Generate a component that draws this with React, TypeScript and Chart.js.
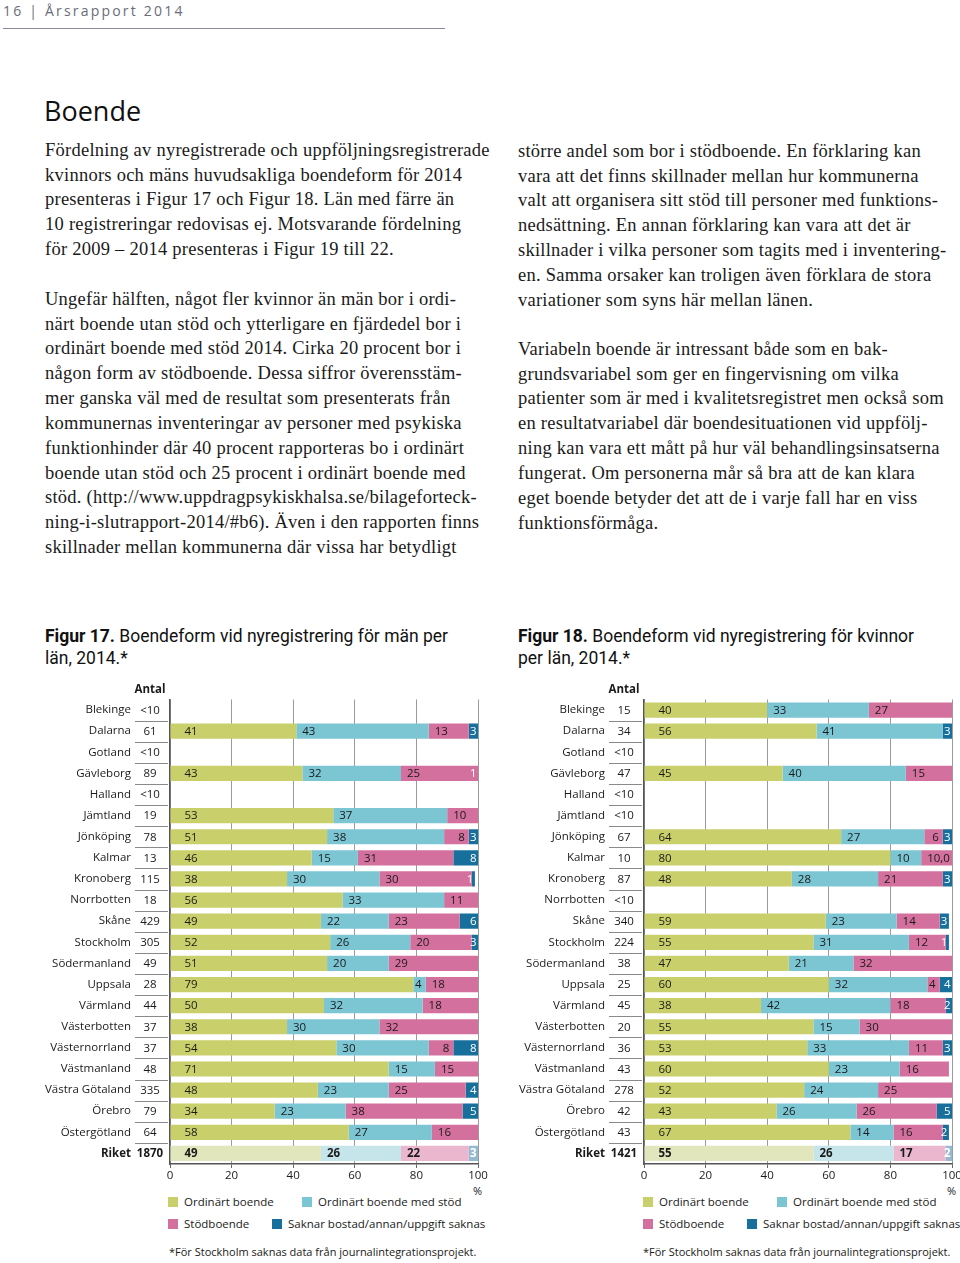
import React, { useEffect, useRef } from "react";
import { Chart, registerables } from "chart.js";
Chart.register(...registerables);

const SANS = '"Open Sans", "Noto Sans", sans-serif';
const SERIF = '"Liberation Serif", "DejaVu Serif", serif';
const NARROW = '"Liberation Sans Narrow", Roboto, sans-serif';
const FS = 11.5;

// ---- data ----
const lan = ["Blekinge", "Dalarna", "Gotland", "Gävleborg", "Halland", "Jämtland", "Jönköping", "Kalmar", "Kronoberg", "Norrbotten", "Skåne", "Stockholm", "Södermanland", "Uppsala", "Värmland", "Västerbotten", "Västernorrland", "Västmanland", "Västra Götaland", "Örebro", "Östergötland", "Riket"];
const seriesNames = ["Ordinärt boende", "Ordinärt boende med stöd", "Stödboende", "Saknar bostad/annan/uppgift saknas"];
const xTicks = [0, 20, 40, 60, 80, 100];

const manAntal = ["<10", "61", "<10", "89", "<10", "19", "78", "13", "115", "18", "429", "305", "49", "28", "44", "37", "37", "48", "335", "79", "64", "1870"];
const manOrd = [null, 41, null, 43, null, 53, 51, 46, 38, 56, 49, 52, 51, 79, 50, 38, 54, 71, 48, 34, 58, 49];
const manOrdStod = [null, 43, null, 32, null, 37, 38, 15, 30, 33, 22, 26, 20, 4, 32, 30, 30, 15, 23, 23, 27, 26];
const manStod = [null, 13, null, 25, null, 10, 8, 31, 30, 11, 23, 20, 29, 18, 18, 32, 8, 15, 25, 38, 16, 22];
const manSaknar = [null, 3, null, 1, null, 0, 3, 8, 1, 0, 6, 3, 0, 0, 0, 0, 8, 0, 4, 5, 0, 3];

const kvAntal = ["15", "34", "<10", "47", "<10", "<10", "67", "10", "87", "<10", "340", "224", "38", "25", "45", "20", "36", "43", "278", "42", "43", "1421"];
const kvOrd = [40, 56, null, 45, null, null, 64, 80, 48, null, 59, 55, 47, 60, 38, 55, 53, 60, 52, 43, 67, 55];
const kvOrdStod = [33, 41, null, 40, null, null, 27, 10, 28, null, 23, 31, 21, 32, 42, 15, 33, 23, 24, 26, 14, 26];
const kvStod = [27, 0, null, 15, null, null, 6, 10, 21, null, 14, 12, 32, 4, 18, 30, 11, 16, 25, 26, 16, 17];
const kvSaknar = [0, 3, null, 0, null, null, 3, 0, 3, null, 3, 1, 0, 4, 2, 0, 3, 0, 0, 5, 2, 2];
const kvEtikettUndantag = { 2: { 7: "10,0" } };

const colors = ["#c9cf6b", "#7cc5d3", "#d4709e", "#176f9c"];
const lightColors = ["#e2e6bd", "#c6e5eb", "#ebb7cf", "#93bad0"];

const extraPlugin = {
  id: "extra",
  afterDatasetsDraw(chart: any, _args: any, opts: any) {
    const { ctx, chartArea } = chart;
    const ys = chart.scales.y;
    const n = lan.length;
    ctx.save();
    ctx.fillStyle = "#1a1a1a";
    ctx.textAlign = "center";
    ctx.textBaseline = "middle";
    ctx.font = `bold ${FS}px ${SANS}`;
    ctx.fillText("Antal", 110, chartArea.top - 10);
    opts.antal.forEach((a: string, i: number) => {
      ctx.font = `${i === n - 1 ? "bold " : ""}${FS}px ${SANS}`;
      ctx.fillText(a, 110, ys.getPixelForValue(i) + 0.5);
    });
    ctx.strokeStyle = "#8a8a8a";
    ctx.lineWidth = 1;
    for (let i = 0; i < n - 1; i++) {
      const yy = Math.round((ys.getPixelForValue(i) + ys.getPixelForValue(i + 1)) / 2) + 0.5;
      ctx.beginPath();
      ctx.moveTo(95, yy);
      ctx.lineTo(128, yy);
      ctx.stroke();
    }
    // bar labels
    chart.data.datasets.forEach((ds: any, k: number) => {
      const meta = chart.getDatasetMeta(k);
      meta.data.forEach((bar: any, i: number) => {
        const v = ds.data[i];
        if (!v) return;
        const p = bar.getProps(["x", "base", "y"], true);
        const start = Math.min(p.x, p.base);
        const end = Math.min(Math.max(p.x, p.base), chartArea.right);
        const txt = (opts.overrides && opts.overrides[k] && opts.overrides[k][i]) || String(v);
        ctx.font = `${i === n - 1 ? "bold " : ""}${FS}px ${SANS}`;
        ctx.textBaseline = "middle";
        const w = end - start;
        if (k === 3) {
          ctx.fillStyle = "#ffffff";
          ctx.textAlign = "right";
          ctx.fillText(txt, Math.min(end, chartArea.right) - 1.5, p.y + 0.5);
          return;
        }
        ctx.fillStyle = "#1a1a1a";
        if (w < 27) {
          ctx.textAlign = "right";
          ctx.fillText(txt, end - 4, p.y + 0.5);
        } else {
          ctx.textAlign = "left";
          ctx.fillText(txt, start + (k === 0 ? 14 : 6), p.y + 0.5);
        }
      });
    });
    ctx.restore();
  },
};

function StackedChart(props: { antal: string[]; series: (number | null)[][]; overrides?: any; width: number; padRight: number }) {
  const ref = useRef<HTMLCanvasElement>(null);
  useEffect(() => {
    const bg = (k: number) => lan.map((_, i) => (i === lan.length - 1 ? lightColors[k] : colors[k]));
    const chart = new Chart(ref.current as HTMLCanvasElement, {
      type: "bar",
      data: {
        labels: lan,
        datasets: props.series.map((s, k) => ({
          label: seriesNames[k],
          data: s,
          backgroundColor: bg(k),
          borderWidth: 0,
          barPercentage: 0.72,
          categoryPercentage: 1,
        })),
      },
      options: {
        indexAxis: "y",
        animation: false,
        responsive: false,
        maintainAspectRatio: false,
        layout: { padding: { top: 21.5, right: props.padRight, left: 0, bottom: 0 } },
        plugins: {
          legend: { display: false },
          tooltip: { enabled: false },
          extra: { antal: props.antal, overrides: props.overrides },
        } as any,
        scales: {
          x: {
            stacked: true,
            min: 0,
            max: 100,
            afterBuildTicks: (s: any) => {
              s.ticks = xTicks.map((v) => ({ value: v }));
            },
            ticks: { font: { family: SANS, size: FS }, color: "#1a1a1a", padding: 1, maxRotation: 0 },
            grid: { color: "#9a9a9a", lineWidth: 1, drawTicks: true, tickLength: 4, tickColor: "#666" },
            border: { color: "#555", width: 1.5 },
            afterFit: (s: any) => {
              s.height = 19;
              s.paddingLeft = 0;
              s.paddingRight = 0;
              s.paddingTop = 0;
              s.paddingBottom = 0;
            },
          },
          y: {
            stacked: true,
            ticks: {
              font: (c: any) => ({ family: SANS, size: FS, weight: c.index === lan.length - 1 ? "bold" : "normal" }),
              color: "#1a1a1a",
              padding: 39,
              autoSkip: false,
            },
            grid: { display: false, drawTicks: false },
            border: { color: "#555", width: 1.5 },
            afterFit: (s: any) => {
              s.width = 130;
              s.paddingTop = 0;
              s.paddingBottom = 0;
              s.paddingLeft = 0;
              s.paddingRight = 0;
            },
          },
        },
      } as any,
      plugins: [extraPlugin],
    });
    return () => chart.destroy();
  }, []);
  return <canvas ref={ref} width={props.width} height={505} style={{ display: "block" }} />;
}

function Lines({ left, center, lines }: { left: number; center: number; lines: string[] }) {
  const lh = 24.85;
  return (
    <div style={{ position: "absolute", left, top: center - 12.3, fontFamily: SERIF, fontSize: 18.5, letterSpacing: "0.25px", lineHeight: `${lh}px`, color: "#1a1a1a", whiteSpace: "nowrap" }}>
      {lines.map((l, i) => (
        <div key={i}>{l}</div>
      ))}
    </div>
  );
}

function Legend({ left, x2a, x2b }: { left: number; x2a: number; x2b: number }) {
  const item = (x: number, y: number, c: string, t: string) => (
    <div style={{ position: "absolute", left: x, top: y - 8, display: "flex", alignItems: "center", fontFamily: SANS, fontSize: 11.5, color: "#1a1a1a", whiteSpace: "nowrap" }}>
      <span style={{ display: "inline-block", width: 10, height: 10, background: c, marginRight: 6 }} />
      {t}
    </div>
  );
  return (
    <>
      {item(left, 1202, colors[0], seriesNames[0])}
      {item(x2a, 1202, colors[1], seriesNames[1])}
      {item(left, 1224, colors[2], seriesNames[2])}
      {item(x2b, 1224, colors[3], seriesNames[3])}
    </>
  );
}

export default function App() {
  useEffect(() => {
    document.body.style.margin = "0";
  }, []);
  const abs = (s: any) => ({ position: "absolute", ...s } as React.CSSProperties);
  return (
    <div style={{ position: "absolute", left: 0, top: 0, width: 960, height: 1263, overflow: "hidden", background: "#fff" }}>
      <div style={abs({ left: 3, top: 1, fontFamily: SANS, fontSize: 14, letterSpacing: "2.2px", color: "#6b6b7b", whiteSpace: "nowrap" })}>16 | Årsrapport 2014</div>
      <div style={abs({ left: 3, top: 28, width: 442, height: 1, background: "#8a8a9a" })} />
      <div style={abs({ left: 44, top: 92, fontFamily: SANS, fontSize: 27, color: "#111", fontWeight: 400 })}>Boende</div>

      <Lines left={45} center={150} lines={["Fördelning av nyregistrerade och uppföljningsregistrerade", "kvinnors och mäns huvudsakliga boendeform för 2014", "presenteras i Figur 17 och Figur 18. Län med färre än", "10 registreringar redovisas ej. Motsvarande fördelning", "för 2009 – 2014 presenteras i Figur 19 till 22."]} />
      <Lines left={45} center={299} lines={["Ungefär hälften, något fler kvinnor än män bor i ordi-", "närt boende utan stöd och ytterligare en fjärdedel bor i", "ordinärt boende med stöd 2014. Cirka 20 procent bor i", "någon form av stödboende. Dessa siffror överensstäm-", "mer ganska väl med de resultat som presenterats från", "kommunernas inventeringar av personer med psykiska", "funktionhinder där 40 procent rapporteras bo i ordinärt", "boende utan stöd och 25 procent i ordinärt boende med", "stöd. (http://www.uppdragpsykiskhalsa.se/bilageforteck-", "ning-i-slutrapport-2014/#b6). Även i den rapporten finns", "skillnader mellan kommunerna där vissa har betydligt"]} />
      <Lines left={518} center={151} lines={["större andel som bor i stödboende. En förklaring kan", "vara att det finns skillnader mellan hur kommunerna", "valt att organisera sitt stöd till personer med funktions-", "nedsättning. En annan förklaring kan vara att det är", "skillnader i vilka personer som tagits med i inventering-", "en. Samma orsaker kan troligen även förklara de stora", "variationer som syns här mellan länen."]} />
      <Lines left={518} center={349} lines={["Variabeln boende är intressant både som en bak-", "grundsvariabel som ger en fingervisning om vilka", "patienter som är med i kvalitetsregistret men också som", "en resultatvariabel där boendesituationen vid uppfölj-", "ning kan vara ett mått på hur väl behandlingsinsatserna", "fungerat. Om personerna mår så bra att de kan klara", "eget boende betyder det att de i varje fall har en viss", "funktionsförmåga."]} />

      <div style={abs({ left: 45, top: 625, fontFamily: NARROW, fontSize: 17.5, lineHeight: "22px", color: "#111", whiteSpace: "nowrap" })}>
        <div><b>Figur 17.</b> Boendeform vid nyregistrering för män per</div>
        <div>län, 2014.*</div>
      </div>
      <div style={abs({ left: 518, top: 625, fontFamily: NARROW, fontSize: 17.5, lineHeight: "22px", color: "#111", whiteSpace: "nowrap" })}>
        <div><b>Figur 18.</b> Boendeform vid nyregistrering för kvinnor</div>
        <div>per län, 2014.*</div>
      </div>

      <div style={abs({ left: 40, top: 678 })}>
        <StackedChart antal={manAntal} series={[manOrd, manOrdStod, manStod, manSaknar]} width={450} padRight={12} />
      </div>
      <div style={abs({ left: 514, top: 678 })}>
        <StackedChart antal={kvAntal} series={[kvOrd, kvOrdStod, kvStod, kvSaknar]} overrides={kvEtikettUndantag} width={446} padRight={8} />
      </div>

      <div style={abs({ left: 473, top: 1183, fontFamily: SANS, fontSize: 11, color: "#1a1a1a" })}>%</div>
      <div style={abs({ left: 947, top: 1183, fontFamily: SANS, fontSize: 11, color: "#1a1a1a" })}>%</div>

      <Legend left={168} x2a={302} x2b={272} />
      <Legend left={643} x2a={777} x2b={747} />

      <div style={abs({ left: 169, top: 1244, fontFamily: SANS, fontSize: 11, color: "#1a1a1a", whiteSpace: "nowrap" })}>*För Stockholm saknas data från journalintegrationsprojekt.</div>
      <div style={abs({ left: 643, top: 1244, fontFamily: SANS, fontSize: 11, color: "#1a1a1a", whiteSpace: "nowrap" })}>*För Stockholm saknas data från journalintegrationsprojekt.</div>
    </div>
  );
}
